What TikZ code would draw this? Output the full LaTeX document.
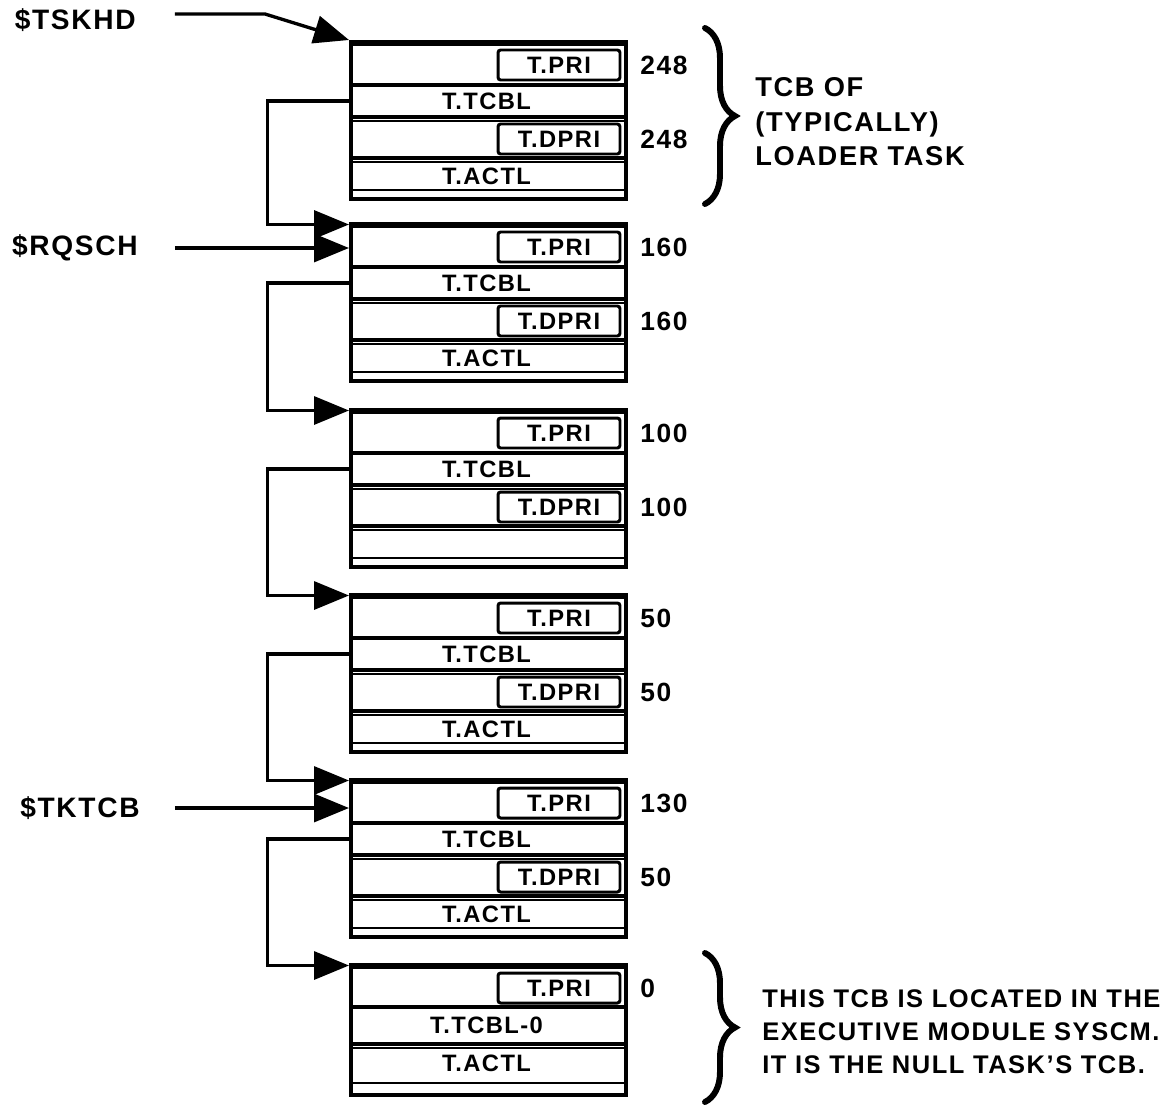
\documentclass[tikz,border=0pt]{standalone}
\usepackage{fontspec}
\setmainfont[LetterSpace=6]{Liberation Sans}
\usepackage{tikz}
\usetikzlibrary{
    arrows.meta,
    positioning,
    decorations.pathreplacing
}
\tikzstyle{tcbframe} = [
    rectangle,
    draw,
    line width=2.4pt,
    minimum width=5.5cm,
    minimum height=3.14cm,
    anchor=north west,
    inner sep=0pt
]
\tikzstyle{field} = [
    rectangle,
    draw,
    line width=1.7pt,
    rounded corners=1.5pt,
    minimum width=2.44cm,
    minimum height=0.6cm,
    inner sep=0pt,
    font=\fontsize{13.5}{16}\selectfont\bfseries
]
\tikzstyle{rowtext} = [
    minimum width=5.48cm,
    inner sep=0pt,
    font=\fontsize{13.5}{16}\selectfont\bfseries
]
\tikzstyle{value} = [
    anchor=west,
    inner sep=0pt,
    font=\fontsize{15}{18}\selectfont\bfseries
]
\tikzstyle{entry} = [
    anchor=east,
    inner sep=0pt,
    font=\fontsize{16}{19}\selectfont\bfseries
]
\tikzstyle{note} = [
    anchor=west,
    align=left,
    inner sep=0pt,
    font=\fontsize{15.5}{19.6}\selectfont\bfseries
]
\tikzstyle{sepline} = [line width=2.2pt]
\tikzstyle{hairline} = [line width=0.8pt]
\tikzstyle{link} = [
    -{Triangle[length=0.7cm,width=0.56cm]},
    line width=1.9pt
]
\tikzstyle{bigbrace} = [
    decorate,
    decoration={brace, amplitude=0.6cm},
    line width=3.4pt,
    line cap=round
]
% one task control block: name, top, T.PRI, T.DPRI, last row
\newcommand{\tcbblock}[5]{%
    \begin{scope}[shift={(0,#2)}]
        \node[tcbframe] (#1) at (349,0) {};
        \draw[hairline] (349,5) -- (624,5);
        \draw[sepline] (349,45) -- (624,45);
        \draw[sepline] (349,77) -- (624,77);
        \draw[hairline] (349,81) -- (624,81);
        \draw[sepline] (349,118) -- (624,118);
        \draw[hairline] (349,122) -- (624,122);
        \draw[hairline] (349,150) -- (624,150);
        \node[field] (#1pri) at (559,25) {T.PRI};
        \node[value] (#1prino) at (640,25) {#3};
        \node[rowtext] (#1tcbl) at (486.5,61) {T.TCBL};
        \node[field] (#1dpri) at (559,99) {T.DPRI};
        \node[value] (#1dprino) at (640,99) {#4};
        \node[rowtext] (#1actl) at (486.5,136) {#5};
    \end{scope}}

\begin{document}
\begin{tikzpicture}[x=0.02cm, y=-0.02cm]
        \useasboundingbox (0,0) rectangle (1176,1105);

        % Task list
        \tcbblock{tcbA}{40}{248}{248}{T.ACTL}
        \tcbblock{tcbB}{222}{160}{160}{T.ACTL}
        \tcbblock{tcbC}{408}{100}{100}{}
        \tcbblock{tcbD}{593}{50}{50}{T.ACTL}
        \tcbblock{tcbE}{778}{130}{50}{T.ACTL}

        % Null task
        \begin{scope}[shift={(0,963)}]
            \node[tcbframe, minimum height=2.6cm] (tcbF) at (349,0) {};
            \draw[hairline] (349,5) -- (624,5);
            \draw[sepline] (349,44) -- (624,44);
            \draw[sepline] (349,81) -- (624,81);
            \draw[hairline] (349,85) -- (624,85);
            \draw[hairline] (349,120) -- (624,120);
            \node[field] (tcbFpri) at (559,25) {T.PRI};
            \node[value] (tcbFprino) at (640,25) {0};
            \node[rowtext] (tcbFtcbl) at (486.5,62) {T.TCBL-0};
            \node[rowtext] (tcbFactl) at (486.5,100) {T.ACTL};
        \end{scope}

        % Links
        \draw[link] (tcbAtcbl.west) -- ++(-82,0) |- ([yshift=-0.05cm]tcbB.north west);
        \draw[link] (tcbBtcbl.west) -- ++(-82,0) |- ([yshift=-0.05cm]tcbC.north west);
        \draw[link] (tcbCtcbl.west) -- ++(-82,0) |- ([yshift=-0.05cm]tcbD.north west);
        \draw[link] (tcbDtcbl.west) -- ++(-82,0) |- ([yshift=-0.05cm]tcbE.north west);
        \draw[link] (tcbEtcbl.west) -- ++(-82,0) |- ([yshift=-0.05cm]tcbF.north west);

        % Pointers
        \node[entry] (tskhd) at (136,20) {\$TSKHD};
        \node[entry] (rqsch) at (138,248) {\$RQSCH};
        \node[entry] (tktcb) at (140,808) {\$TKTCB};
        \draw[link] ([xshift=0.78cm,yshift=0.12cm]tskhd.east) -- ++(90,0) -- (tcbA.north west);
        \draw[link] ([xshift=0.74cm]rqsch.east) -- (rqsch.east -| tcbB.west);
        \draw[link] ([xshift=0.7cm]tktcb.east) -- (tktcb.east -| tcbE.west);

        % Braces
        \draw[bigbrace] (705,28) -- (705,204);
        \node[note] (loadernote) at (755,122) {TCB OF\\(TYPICALLY)\\LOADER TASK};
        \draw[bigbrace] (705,953) -- (705,1102);
        \node[note, font=\fontsize{14.5}{18.7}\selectfont\bfseries] (nullnote) at (762,1032) {THIS TCB IS LOCATED IN THE\\EXECUTIVE MODULE SYSCM.\\IT IS THE NULL TASK’S TCB.};
    \end{tikzpicture}
\end{document}
